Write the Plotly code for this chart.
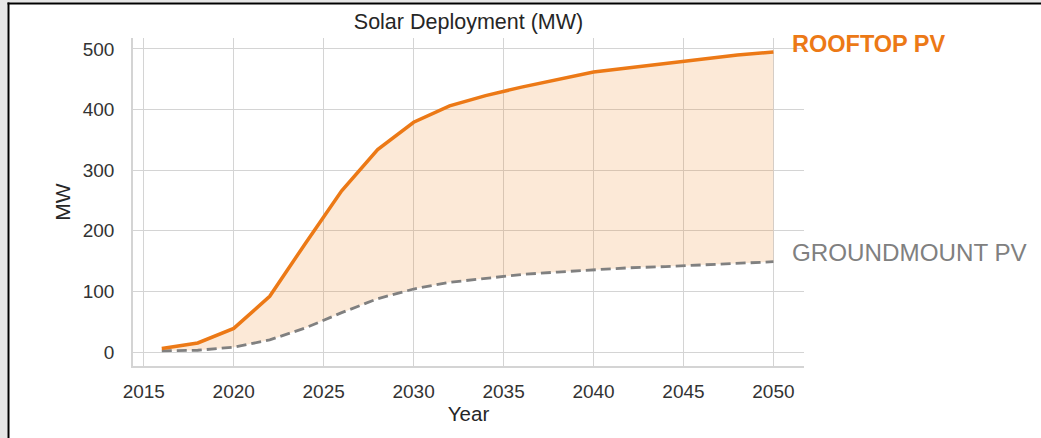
import plotly.graph_objects as go

years = [2016, 2018, 2020, 2022, 2024, 2026, 2028, 2030, 2032, 2034,
         2036, 2038, 2040, 2042, 2044, 2046, 2048, 2050]
rooftop = [6, 15, 39, 92, 180, 266, 334, 379, 406, 423,
           437, 450, 462, 469, 476, 483, 490, 495]
groundmount = [2, 3, 8, 20, 40, 65, 88, 104, 115, 121,
               128, 132, 136, 139, 141, 144, 147, 149]
x_ticks = [2015, 2020, 2025, 2030, 2035, 2040, 2045, 2050]
y_ticks = [0, 100, 200, 300, 400, 500]

W, H = 1041, 438
L, R, T, B = 133, 237, 38, 72
pw, ph = W - L - R, H - T - B

ORANGE = "rgb(236,121,22)"
GRAY = "rgb(128,128,128)"
FONT = "Arial, Liberation Sans, Helvetica, sans-serif"

fig = go.Figure()
# fill between series
fig.add_trace(go.Scatter(x=years, y=groundmount, mode="lines",
                         line=dict(width=0), hoverinfo="skip", showlegend=False))
fig.add_trace(go.Scatter(x=years, y=rooftop, mode="lines", fill="tonexty",
                         fillcolor="rgba(238,122,16,0.17)",
                         line=dict(width=0), hoverinfo="skip", showlegend=False))
# lines
fig.add_trace(go.Scatter(x=years, y=groundmount, mode="lines", name="GROUNDMOUNT PV",
                         line=dict(color=GRAY, width=2.8, dash="10px,5px"), showlegend=False))
fig.add_trace(go.Scatter(x=years, y=rooftop, mode="lines", name="ROOFTOP PV",
                         line=dict(color=ORANGE, width=3.5), showlegend=False))

fig.add_annotation(x=years[-1], y=rooftop[-1], text="<b>ROOFTOP PV</b>",
                   showarrow=False, xanchor="left", yanchor="middle",
                   xshift=17, yshift=8, font=dict(size=23.5, color=ORANGE, family=FONT))
fig.add_annotation(x=years[-1], y=groundmount[-1], text="GROUNDMOUNT PV",
                   showarrow=False, xanchor="left", yanchor="middle",
                   xshift=17, yshift=9, font=dict(size=24.2, color=GRAY, family=FONT))

# frame of the screenshot
def px_x(p):
    return (p - L) / pw

def px_y(p):
    return (H - B - p) / ph

shapes = [
    dict(type="rect", xref="paper", yref="paper", x0=px_x(0), x1=px_x(7.5),
         y0=px_y(H), y1=px_y(0), fillcolor="#e6e6e6", line=dict(width=0), layer="above"),
    dict(type="rect", xref="paper", yref="paper", x0=px_x(0), x1=px_x(W),
         y0=px_y(2.5), y1=px_y(0), fillcolor="#e6e6e6", line=dict(width=0), layer="above"),
    dict(type="rect", xref="paper", yref="paper", x0=px_x(7.5), x1=px_x(9.5),
         y0=px_y(H), y1=px_y(2.5), fillcolor="black", line=dict(width=0), layer="above"),
    dict(type="rect", xref="paper", yref="paper", x0=px_x(7.5), x1=px_x(W),
         y0=px_y(4.5), y1=px_y(2.5), fillcolor="black", line=dict(width=0), layer="above"),
]

fig.update_layout(
    width=W, height=H,
    margin=dict(l=L, r=R, t=T, b=B, pad=0),
    paper_bgcolor="white", plot_bgcolor="white",
    font=dict(family=FONT, color="#333333"),
    title=dict(text="Solar Deployment (MW)", x=0.5, xref="paper",
               y=1 - 21 / H, yref="container", yanchor="middle", xanchor="center",
               font=dict(size=21.5, color="#262626", family=FONT)),
    shapes=shapes,
)
fig.update_xaxes(range=[2014.4, 2051.7], tickvals=x_ticks, ticks="",
                 showgrid=True, gridcolor="#d4d4d4", gridwidth=1,
                 showline=True, linecolor="#d4d4d4", linewidth=1.5,
                 zeroline=False, tickfont=dict(size=19, color="#333333"),
                 ticklabelstandoff=7,
                 title=dict(text="Year", font=dict(size=20.5, color="#262626"), standoff=4))
fig.update_yaxes(range=[-23, 518], tickvals=y_ticks, ticks="",
                 showgrid=True, gridcolor="#d4d4d4", gridwidth=1,
                 showline=True, linecolor="#d4d4d4", linewidth=1.5,
                 zeroline=False, tickfont=dict(size=19, color="#333333"),
                 ticklabelstandoff=13,
                 title=dict(text="MW", font=dict(size=21, color="#262626"), standoff=6))

fig.write_html("out.html", config={"displayModeBar": False},
               post_script="document.body.style.margin='0';document.body.style.overflow='hidden';")
